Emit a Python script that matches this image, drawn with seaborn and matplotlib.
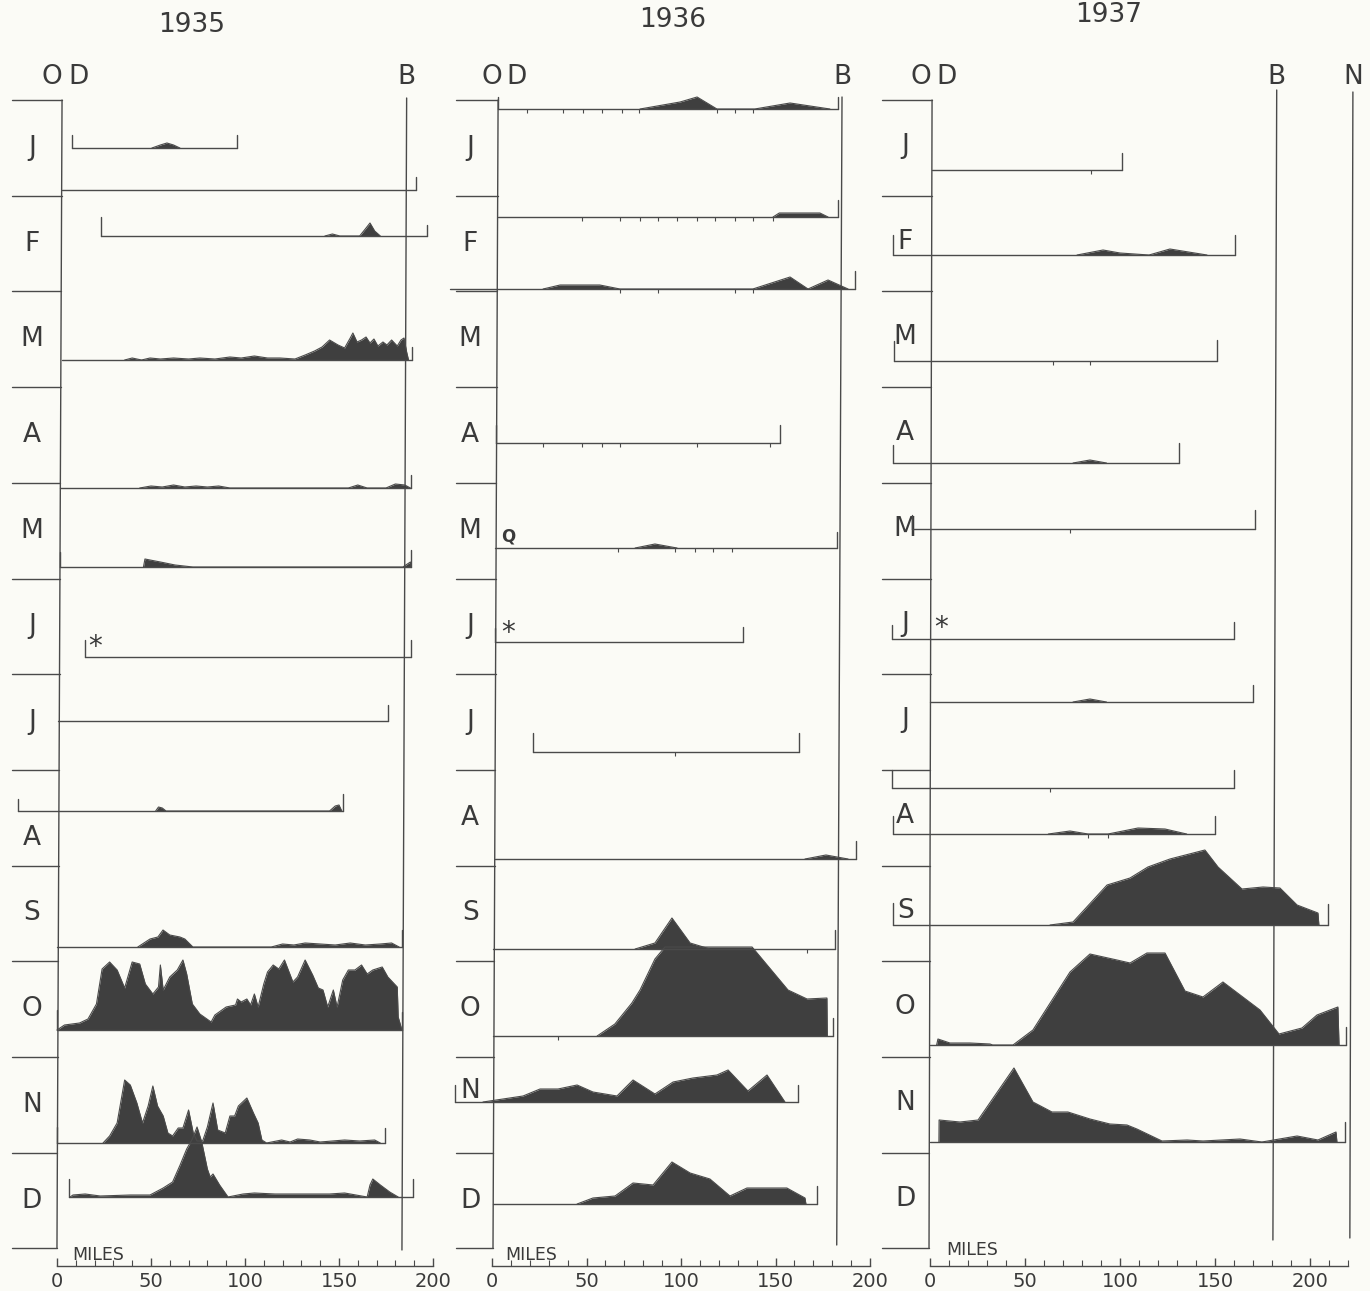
import numpy as np
import matplotlib
matplotlib.use("Agg")
import matplotlib.pyplot as plt
from matplotlib.ticker import FixedLocator
import seaborn as sns

sns.set_theme(style="white")
plt.rcParams["font.family"] = ["DejaVu Sans"]

months = ["J", "F", "M", "A", "M", "J", "J", "A", "S", "O", "N", "D"]
years = ["1935", "1936", "1937"]
tick_miles = [0, 50, 100, 150, 200]
tick_labels = ["0", "50", "100", "150", "200"]

# ---- 1935: one entry per survey line (level, start/end miles, profile)
base35_y = [48, 90, 136, 260, 388, 467, 557, 621, 711, 847, 930, 1043, 1097]
base35_x0 = [8, 2.7, 23.4, 2.7, 1.6, 1.6, 14.9, 0.5, -20.7, 0, 0, 0, 6.4]
base35_x1 = [95.7, 191, 196.8, 189, 188.3, 188.3, 188.3, 176, 152, 183.5, 183.5, 174.5, 189.4]
prof35_mi = [
    [50.5, 55, 58.5, 62, 65.4],
    [],
    [142.5, 146.5, 150.5, 161, 164, 166.5, 169, 172],
    [36, 40, 45, 49.5, 55, 62, 70, 76, 84, 92, 98, 105, 112, 118.6, 126.6, 132, 137, 141, 145,
     149.5, 153, 156, 157.4, 159.6, 162, 164.4, 166.5, 168.6, 170.7, 173.4, 175.5, 178, 181,
     183, 184.6, 186, 187],
    [44, 50, 56, 62, 68, 74, 80, 86, 92, 155, 160, 165, 175, 180, 185, 188],
    [46, 46.8, 49.5, 55, 62.8, 72.3, 184, 188, 188.3],
    [],
    [],
    [52.5, 54, 56, 58, 145, 148, 150, 151.5],
    [43, 49.5, 53.7, 56.4, 60, 65.4, 68, 72.3, 114, 120, 126, 132, 140, 148, 156, 164, 172, 178, 182],
    [0, 4, 12, 16.5, 21, 24, 28, 32, 36, 40, 44, 47, 51, 54, 55, 56.5, 60, 64, 67, 69, 72, 76, 82,
     84, 90, 95, 96, 98, 101, 103, 105, 107, 110, 112, 115, 118, 121, 125.5, 128, 132, 136, 139,
     141.5, 144, 147, 149, 152, 155, 158.5, 162, 165, 168, 173, 176, 181, 181.5, 183.5],
    [24.5, 28, 32, 36, 39, 42.5, 45.5, 48.5, 51, 53.5, 56.5, 59, 61.5, 64.5, 67, 70, 72.5, 74.5,
     77.5, 80, 83, 85.5, 89.5, 92, 94.5, 96.5, 101, 104.5, 107, 109, 111.5, 119.5, 124, 128,
     134.5, 140, 153, 161, 169, 172],
    [7, 8.5, 15, 23, 39, 49.5, 56.5, 61.5, 65.5, 69, 72, 74.5, 77, 80, 81.5, 83, 86.5, 91, 99,
     105, 116, 145, 153, 165, 166.5, 168, 172, 177, 181.5],
]
prof35_h = [
    [0, 3, 5, 3, 0],
    [],
    [0, 2, 0, 0, 7, 13, 5, 0],
    [0, 2, 0, 2, 1, 2, 1, 2, 1, 3, 2, 4, 2, 2, 1, 5, 9, 13, 20, 15, 12, 22, 27, 18, 20, 23, 17,
     21, 14, 18, 15, 20, 14, 20, 22, 8, 0],
    [0, 2, 1, 3, 1, 2, 1, 2, 0, 0, 3, 0, 0, 4, 3, 0],
    [0, 8, 7, 5, 2, 0, 0, 5, 0],
    [],
    [],
    [0, 4, 3, 0, 0, 5, 6, 0],
    [0, 8, 10, 17, 12, 10, 8, 0, 0, 3, 2, 4, 3, 2, 4, 2, 3, 4, 0],
    [0, 5, 7, 11, 26, 61, 68, 60, 42, 68, 66, 46, 36, 43, 65, 40, 53, 60, 70, 56, 26, 16, 8, 15,
     23, 25, 31, 28, 31, 25, 36, 23, 46, 58, 65, 61, 70, 48, 53, 70, 55, 42, 40, 23, 40, 23, 50,
     60, 60, 65, 56, 60, 63, 53, 43, 13, 0],
    [0, 7, 20, 63, 58, 40, 20, 37, 57, 37, 27, 10, 7, 15, 15, 33, 10, 2, 2, 16, 40, 13, 10, 27,
     27, 37, 45, 30, 20, 3, 0, 3, 1, 4, 3, 1, 3, 2, 3, 0],
    [0, 2, 3, 1, 2, 2, 9, 15, 32, 48, 58, 70, 55, 28, 20, 23, 12, 0, 3, 4, 3, 3, 4, 0, 12, 18,
     12, 5, 0],
]
stations35 = [[] for _ in base35_y]

# ---- 1936
base36_y = [9, 117, 189, 343, 448, 542, 652, 759, 849, 936, 1002, 1104]
base36_x0 = [3.2, 3.2, -22, 2, 1.6, 1.6, 21.7, 1.6, 0.5, 0.5, -19.6, 0.5]
base36_x1 = [183, 183, 192, 152.4, 182.5, 132.8, 162.4, 192.6, 181.5, 180.4, 161.9, 172]
prof36_mi = [
    [78.3, 99.5, 108.5, 119, 139, 157.7, 178.8],
    [148.7, 152, 173.5, 177.8],
    [27, 36, 57, 67.7, 138, 157.7, 167.2, 177.8, 188.4],
    [],
    [75.7, 86.2, 97.9],
    [],
    [],
    [165.6, 176.7, 188.4],
    [75.7, 86.2, 95.2, 104.8, 115.3],
    [55.6, 65, 74, 78.3, 86.2, 91.5, 137.6, 156.6, 166.7, 177.2, 177.4],
    [-4.8, 16.4, 25.4, 34.9, 45, 53.4, 66.1, 74.6, 86.2, 95.8, 106.3, 119, 124.9, 135.4, 145.5, 155],
    [45, 53.4, 65.1, 74.6, 85.2, 95.2, 104.8, 115.3, 125.9, 134.9, 156, 165.6, 166.1],
]
prof36_h = [
    [0, 7, 12, 0, 0, 6, 0],
    [0, 4, 4, 0],
    [0, 4, 4, 0, 0, 12, 0, 9, 0],
    [],
    [0, 4, 0],
    [],
    [],
    [0, 4, 0],
    [0, 6, 31, 6, 0],
    [0, 12, 33, 46, 77, 89, 89, 46, 37, 38, 0],
    [0, 6, 13, 13, 17, 10, 6, 22, 8, 20, 24, 27, 32, 11, 27, 0],
    [0, 6, 8, 21, 19, 42, 31, 25, 8, 16, 16, 6, 0],
]
stations36 = [
    [18.5, 37.6, 48, 58, 68.8, 78, 119, 128.6, 138],
    [47.6, 67.7, 78.3, 88, 98, 108.5, 118, 128.6, 138, 148.7],
    [67.7, 88, 128.6, 138],
    [27, 47.6, 58, 67.7, 108.5, 147],
    [66.7, 96.8, 107.4, 117, 127],
    [],
    [96.8],
    [],
    [166.5],
    [35],
    [],
    [],
]

# ---- 1937
base37_y = [70, 155, 261, 363, 429, 539, 602, 688, 734, 825, 945, 1042]
base37_x0 = [1, -19.5, -19, -19.5, -9.6, -20, 0, -20, -19.5, -19.5, 0, 0]
base37_x1 = [100.9, 160.5, 151, 131, 171, 160, 170, 160, 150, 209.5, 218.9, 218.4]
prof37_mi = [
    [],
    [77.4, 91.1, 100, 115.3, 126.3, 145.8],
    [],
    [75.3, 84.2, 92.9],
    [],
    [],
    [75.3, 84.2, 92.9],
    [],
    [62.3, 73.7, 83.2, 93.7, 109.5, 123.7, 135.1],
    [63.2, 75.3, 93.2, 105.3, 114.7, 126.3, 144.7, 151.6, 164.2, 175.3, 184.2, 193.2, 204.2, 204.7],
    [3.5, 4.2, 10.5, 21, 31.6, 33, 43.7, 54.2, 73.7, 84.2, 98.4, 105.3, 114.2, 123.7, 134.2,
     143.7, 154.2, 173.7, 183.7, 195.8, 203.7, 214.7, 215.3],
    [4.7, 4.8, 15.8, 25.3, 44.2, 54.2, 64.2, 72.6, 84.2, 94.7, 103.7, 108.9, 122.1, 135.3, 143.7,
     163.2, 174.7, 193.2, 204.2, 213.7, 214.2],
]
prof37_h = [
    [],
    [0, 5, 2, 0, 6, 0],
    [],
    [0, 3, 0],
    [],
    [],
    [0, 3, 0],
    [],
    [0, 3, 0, 0, 6, 5, 0],
    [0, 3, 40, 47, 58, 66, 75, 58, 36, 38, 37, 20, 12, 0],
    [0, 6, 2, 2, 1, 0, 0, 15, 73, 91, 85, 82, 92, 92, 54, 48, 63, 35, 11, 17, 30, 38, 0],
    [0, 22, 20, 22, 74, 40, 30, 30, 23, 18, 17, 13, 1, 2, 1, 3, 0, 6, 2, 10, 0],
]
stations37 = [[85], [], [64.7, 84.2], [], [73.7], [], [], [63], [83.2, 93.7], [], [], []]

# bracket end heights (drawing detail)
caps35 = [(13, 13), (0, 13), (19, 11), (0, 13), (0, 13), (15, 17), (17, 17), (0, 16),
          (12, 17), (0, 17), (20, 18), (16, 15), (18, 18)]
caps36 = [(12, 12), (0, 17), (0, 18), (18, 18), (0, 16), (14, 15), (19, 19), (0, 18),
          (0, 19), (0, 18), (17, 17), (0, 18)]
caps37 = [(0, 17), (20, 20), (20, 21), (18, 20), (14, 19), (14, 17), (0, 17), (18, 18),
          (18, 18), (22, 21), (0, 18), (0, 20)]

PAPER = "#fbfbf6"
INK = "#4a4a4a"
TEXT = "#3a3a3a"
FILL = "#3f3f3f"
ROW = 95.7
W, H = 1370, 1291

layouts = [
    dict(left=0, width=445, xlim=(-30.3, 206.4), od=(2.7, 0), sep_left=-24, label_x=-13.3,
         label_shift=[0, 0, 0, 0, 0, 0, 0, 20, 0, 0, 0, 0],
         refs=[(186, 183.5, -2, 1150, "B")], o_x=-2.7, d_x=11.2, axis_end=200,
         miles=(8, 1155), title=(71.8, -75), marks=[(20.2, 547, "*", 20)]),
    dict(left=445, width=435, xlim=(-24.9, 205.3), od=(3.2, 0.5), sep_left=-19, label_x=-11.6,
         label_shift=[0, 0, 0, 0, 0, 0, 0, 0, 0, 0, -14, 0],
         refs=[(185.2, 182.4, -3, 1145, "B")], o_x=0, d_x=13.2, axis_end=200,
         miles=(6.9, 1155), title=(95.8, -80),
         marks=[(8.5, 437, "Q", 12), (8.5, 533, "*", 20)]),
    dict(left=880, width=490, xlim=(-26.3, 231.6), od=(1.1, -0.5), sep_left=-25, label_x=-13,
         label_shift=[-2] * 12,
         refs=[(182.5, 180.5, -10, 1140, "B"), (222.6, 221, -8, 1138, "N")], o_x=-4.7, d_x=8.9,
         axis_end=220, miles=(8.4, 1150), title=(94.2, -85), marks=[(5.6, 528, "*", 20)]),
]

series = [
    (base35_y, base35_x0, base35_x1, caps35, stations35, prof35_mi, prof35_h),
    (base36_y, base36_x0, base36_x1, caps36, stations36, prof36_mi, prof36_h),
    (base37_y, base37_x0, base37_x1, caps37, stations37, prof37_mi, prof37_h),
]

fig = plt.figure(figsize=(W / 100, H / 100), dpi=100, facecolor=PAPER)

for year, lay, (b_y, b_x0, b_x1, caps, stations, p_mi, p_h) in zip(years, layouts, series):
    ax = fig.add_axes([lay["left"] / W, 25 / H, lay["width"] / W, 1266 / H])
    ax.set_facecolor("none")

    # month frame: separators and the O-D line
    od_top, od_bot = lay["od"]
    n = len(months)
    ax.plot([od_top, od_bot], [0, n * ROW], color=INK, lw=1.0)
    for r in range(n + 1):
        x_od = od_top + (od_bot - od_top) * r / n
        ax.plot([lay["sep_left"], x_od], [r * ROW, r * ROW], color=INK, lw=1.0)
    for r, m in enumerate(months):
        ax.text(lay["label_x"], r * ROW + ROW / 2 + lay["label_shift"][r], m,
                ha="center", va="center", fontsize=19, color=TEXT)

    # reference verticals (B, N) and station letters
    for xt, xb, y0, y1, name in lay["refs"]:
        ax.plot([xt, xb], [y0, y1], color=INK, lw=1.0)
        ax.text(xt, -23, name, ha="center", va="center", fontsize=19, color=TEXT)
    ax.text(lay["o_x"], -23, "O", ha="center", va="center", fontsize=19, color=TEXT)
    ax.text(lay["d_x"], -23, "D", ha="center", va="center", fontsize=19, color=TEXT)

    # survey lines with their profiles
    for i, y in enumerate(b_y):
        mi, h = p_mi[i], p_h[i]
        if mi:
            top = [y - v for v in h]
            ax.fill_between(mi, y, top, color=FILL, lw=0, zorder=2)
            sns.lineplot(x=mi, y=top, ax=ax, color=INK, lw=0.8, sort=False,
                         estimator=None, zorder=3)
        x0, x1 = b_x0[i], b_x1[i]
        ax.plot([x0, x1], [y, y], color=INK, lw=1.0, zorder=3)
        cl, cr = caps[i]
        if cl:
            ax.plot([x0, x0], [y, y - cl], color=INK, lw=1.0, zorder=3)
        if cr:
            ax.plot([x1, x1], [y, y - cr], color=INK, lw=1.0, zorder=3)
        if stations[i]:
            ax.vlines(stations[i], y, y + 4, color=INK, lw=0.8, zorder=3)

    for mx, my, s, fs in lay["marks"]:
        ax.text(mx, my, s, ha="center", va="center", fontsize=fs, color=TEXT,
                fontweight="bold" if s == "Q" else "normal")

    ax.text(lay["title"][0], lay["title"][1], year, ha="center", va="center",
            fontsize=19, color=TEXT)
    ax.text(lay["miles"][0], lay["miles"][1], "MILES", ha="left", va="center",
            fontsize=12.5, color=TEXT)

    # miles scale along the bottom spine
    ax.set_xlim(*lay["xlim"])
    ax.set_ylim(1166, -100)
    for s in ["top", "right", "left"]:
        ax.spines[s].set_visible(False)
    ax.spines["bottom"].set_bounds(0, lay["axis_end"])
    ax.spines["bottom"].set_color(INK)
    ax.spines["bottom"].set_linewidth(1.0)
    ax.set_xticks(tick_miles)
    ax.set_xticklabels(tick_labels)
    ax.xaxis.set_minor_locator(FixedLocator(np.arange(0, lay["axis_end"] + 1, 10)))
    ax.tick_params(axis="x", which="major", direction="in", length=6, width=1.0,
                   color=INK, labelsize=14, labelcolor=TEXT, pad=4, bottom=True)
    ax.tick_params(axis="x", which="minor", direction="in", length=4, width=0.8,
                   color=INK, bottom=True)
    ax.set_yticks([])
    ax.set_xlabel("")
    ax.set_ylabel("")

fig.savefig("out.png", dpi=100, facecolor=PAPER)
